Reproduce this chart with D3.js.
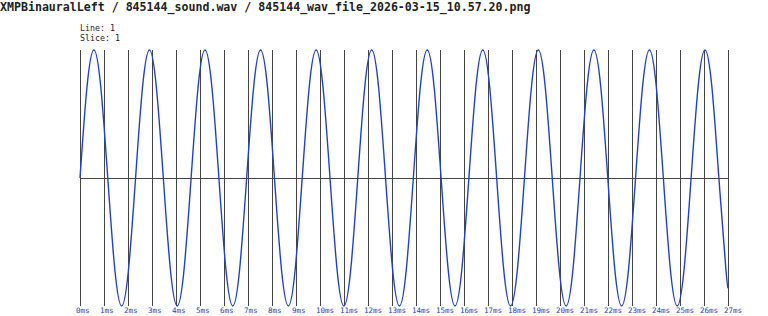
<html>
<script src="https://d3js.org/d3.v7.min.js"></script>
<meta charset="UTF-8">
<style>
    body { margin: 0; background: #fff; }
    text { font-family: "DejaVu Sans Mono", monospace; }
</style>
<body>
    <svg width="768" height="316" id="canvas"></svg>
</body>
<script>
    // wave samples (time in ms, normalised amplitude)
    var times = [0, 0.289, 0.579, 0.868, 1.157, 1.447, 1.736, 2.025, 2.315, 2.604,
        2.894, 3.183, 3.472, 3.762, 4.051, 4.340, 4.630, 4.919, 5.208, 5.498,
        5.787, 6.076, 6.366, 6.655, 6.944, 7.234, 7.523, 7.813, 8.102, 8.391,
        8.681, 8.970, 9.259, 9.549, 9.838, 10.127, 10.417, 10.706, 10.995, 11.285,
        11.574, 11.863, 12.153, 12.442, 12.731, 13.021, 13.310, 13.600, 13.889, 14.178,
        14.468, 14.757, 15.046, 15.336, 15.625, 15.914, 16.204, 16.493, 16.782, 17.072,
        17.361, 17.650, 17.940, 18.229, 18.519, 18.808, 19.097, 19.387, 19.676, 19.965,
        20.255, 20.544, 20.833, 21.123, 21.412, 21.701, 21.991, 22.280, 22.569, 22.859,
        23.148, 23.437, 23.727, 24.016, 24.306, 24.595, 24.884, 25.174, 25.463, 25.752,
        26.042, 26.331, 26.620, 26.910, 27.0];
    var amps = [0, 0.707, 1, 0.707, 0, -0.707, -1, -0.707,
        0, 0.707, 1, 0.707, 0, -0.707, -1, -0.707,
        0, 0.707, 1, 0.707, 0, -0.707, -1, -0.707,
        0, 0.707, 1, 0.707, 0, -0.707, -1, -0.707,
        0, 0.707, 1, 0.707, 0, -0.707, -1, -0.707,
        0, 0.707, 1, 0.707, 0, -0.707, -1, -0.707,
        0, 0.707, 1, 0.707, 0, -0.707, -1, -0.707,
        0, 0.707, 1, 0.707, 0, -0.707, -1, -0.707,
        0, 0.707, 1, 0.707, 0, -0.707, -1, -0.707,
        0, 0.707, 1, 0.707, 0, -0.707, -1, -0.707,
        0, 0.707, 1, 0.707, 0, -0.707, -1, -0.707,
        0, 0.707, 1, 0.707, 0, -0.707, -0.86];
    var tickMs = d3.range(0, 28);
    var title = "XMPBinauralLeft / 845144_sound.wav / 845144_wav_file_2026-03-15_10.57.20.png";
    var infoLines = ["Line: 1", "Slice: 1"];

    var data = times.map(function (t, i) { return { t: t, v: amps[i] }; });

    var svg = d3.select("#canvas");
    var plotLeft = 80, plotRight = 728, plotTop = 50, plotBottom = 306;

    var x = d3.scaleLinear().domain([0, 27]).range([plotLeft, plotRight]);
    var y = d3.scaleLinear().domain([-1, 1]).range([plotBottom, plotTop]);

    svg.append("text")
        .attr("x", 0).attr("y", 10.5)
        .attr("font-size", "11.6px").attr("font-weight", "bold")
        .attr("fill", "#222")
        .text(title);

    svg.selectAll(".info").data(infoLines).enter()
        .append("text")
        .attr("class", "info")
        .attr("x", plotLeft).attr("y", function (d, i) { return 31 + i * 10; })
        .attr("font-size", "8.3px").attr("fill", "#222")
        .text(function (d) { return d; });

    // vertical grid + ms labels
    var ax = svg.append("g")
        .attr("transform", "translate(0," + plotBottom + ")")
        .call(d3.axisBottom(x).tickValues(tickMs).tickSize(-(plotBottom - plotTop)).tickPadding(0)
            .tickFormat(function (d) { return d + "ms"; }));
    ax.select(".domain").remove();
    ax.selectAll("line").attr("stroke", "#444").attr("shape-rendering", "crispEdges");
    ax.selectAll("text")
        .attr("fill", "#2141c4").attr("font-size", "7.5px")
        .attr("text-anchor", "start").attr("dx", "-4.5")
        .attr("y", 6.7).attr("dy", 0);

    // zero line
    svg.append("line")
        .attr("x1", x(0)).attr("x2", x(27))
        .attr("y1", y(0)).attr("y2", y(0))
        .attr("stroke", "#444").attr("shape-rendering", "crispEdges");

    var line = d3.line()
        .x(function (d) { return x(d.t); })
        .y(function (d) { return y(d.v); })
        .curve(d3.curveNatural);

    svg.append("path")
        .datum(data)
        .attr("d", line)
        .attr("fill", "none")
        .attr("stroke", "#2141c4")
        .attr("stroke-width", 1.4);
</script>
</html>
